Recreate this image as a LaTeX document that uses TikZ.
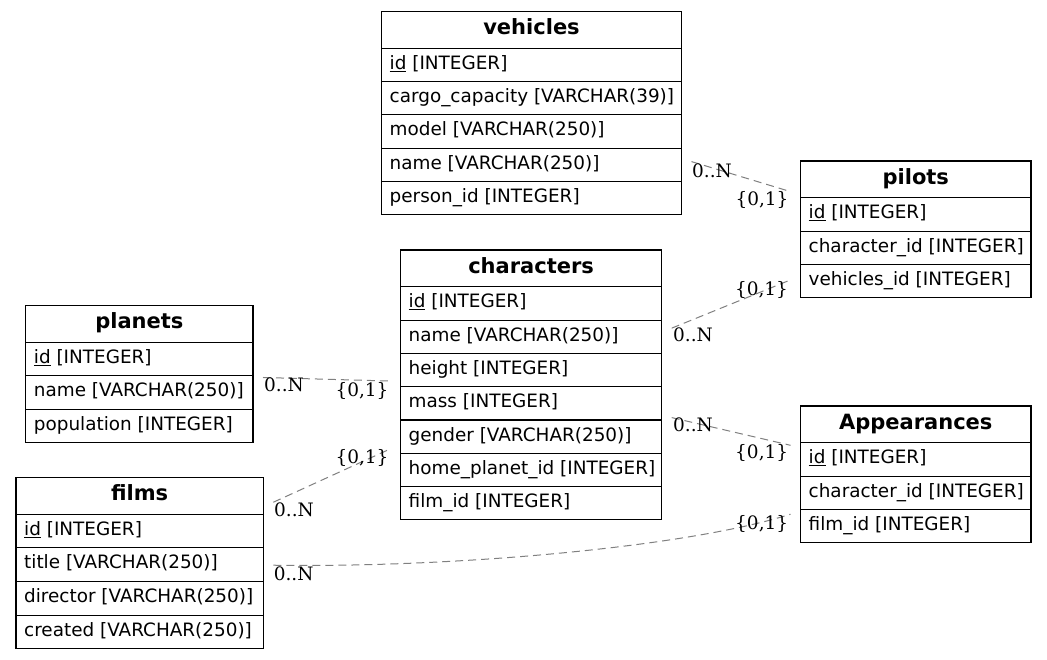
\documentclass[tikz,border=0pt]{standalone}
\usepackage{fontspec}
\setmainfont{DejaVu Sans}
\newfontfamily\cardfont{DejaVu Serif}
\definecolor{relgray}{HTML}{808080}

% One entity box: name, left, top, width, number of rows, row height, title, rows
\newcommand\erdtable[8]{%
  \pgfmathsetmacro\tabH{36.8+#5*#6}%
  \node[tablebox, minimum width=#4pt, minimum height=\tabH pt] (#1) at ({#2+#4/2},{#3+\tabH/2}) {};
  \node[title] (#1-title) at ({#2+#4/2},{#3+23.2}) {#7};
  \draw[rowline] (#2,{#3+36.8}) -- ({#2+#4},{#3+36.8});
  \foreach \txt [count=\i] in {#8} {%
    \pgfmathsetmacro\rowtop{#3+36.8+(\i-1)*#6}%
    \node[field] (#1-row\i) at ({#2+8},{\rowtop+21}) {\txt};
    \ifnum\i>1 \draw[rowline] (#2,\rowtop) -- ({#2+#4},\rowtop);\fi
  }%
}

\begin{document}
\begin{tikzpicture}[x=1pt,y=-1pt,
  tablebox/.style={draw=black, line width=1.1pt, outer sep=10pt, inner sep=0pt},
  rowline/.style={draw=black, line width=1.1pt},
  field/.style={anchor=base west, inner sep=0pt, font=\fontsize{18.4}{20}\selectfont},
  title/.style={anchor=base, inner sep=0pt, font=\fontsize{21}{24}\selectfont\bfseries},
  rel/.style={draw=relgray, line width=1pt, dash pattern=on 8pt off 5pt},
  card/.style={inner sep=0pt, font=\fontsize{18.5}{20}\cardfont},
]
\fill[white] (0,0) rectangle (1047,659);
\useasboundingbox (0,0) rectangle (1047,659);

% entities
\erdtable{vehicles}{381.5}{11.5}{300}{5}{33.3}{vehicles}
  {\underline{id} [INTEGER], cargo\_capacity [VARCHAR(39)], model [VARCHAR(250)], name [VARCHAR(250)], person\_id [INTEGER]}
\erdtable{pilots}{800.5}{161}{230.5}{3}{33.3}{pilots}
  {\underline{id} [INTEGER], character\_id [INTEGER], vehicles\_id [INTEGER]}
\erdtable{characters}{400.5}{250}{261.2}{7}{33.3}{characters}
  {\underline{id} [INTEGER], name [VARCHAR(250)], height [INTEGER], mass [INTEGER], gender [VARCHAR(250)], home\_planet\_id [INTEGER], film\_id [INTEGER]}
\erdtable{planets}{25.7}{305.7}{227.3}{3}{33.3}{planets}
  {\underline{id} [INTEGER], name [VARCHAR(250)], population [INTEGER]}
\erdtable{films}{16}{477.3}{247.3}{4}{33.7}{films}
  {\underline{id} [INTEGER], title [VARCHAR(250)], director [VARCHAR(250)], created [VARCHAR(250)]}
\erdtable{Appearances}{800.5}{406}{230.5}{3}{33.3}{Appearances}
  {\underline{id} [INTEGER], character\_id [INTEGER], film\_id [INTEGER]}

% relationships
\draw[rel] (vehicles) -- (pilots);
\draw[rel] (characters) -- (pilots);
\draw[rel] (planets) -- (characters);
\draw[rel] (films) -- (characters);
\draw[rel] (characters) -- (Appearances);
\draw[rel] (films) .. controls (450,568) and (686,547.5) .. (Appearances);

% cardinalities
\node[card] (vp-many) at (712,170.5) {0..N};
\node[card] (vp-one)  at (762,200) {\{0,1\}};
\node[card] (cp-one)  at (761.5,290) {\{0,1\}};
\node[card] (cp-many) at (693,335) {0..N};
\node[card] (pc-many) at (284,385) {0..N};
\node[card] (pc-one)  at (362,390.5) {\{0,1\}};
\node[card] (fc-one)  at (362,458.3) {\{0,1\}};
\node[card] (fc-many) at (294,510) {0..N};
\node[card] (ca-many) at (693,425) {0..N};
\node[card] (ca-one)  at (761.7,453.3) {\{0,1\}};
\node[card] (fa-one)  at (761.7,524) {\{0,1\}};
\node[card] (fa-many) at (293.7,573.7) {0..N};
\end{tikzpicture}
\end{document}
